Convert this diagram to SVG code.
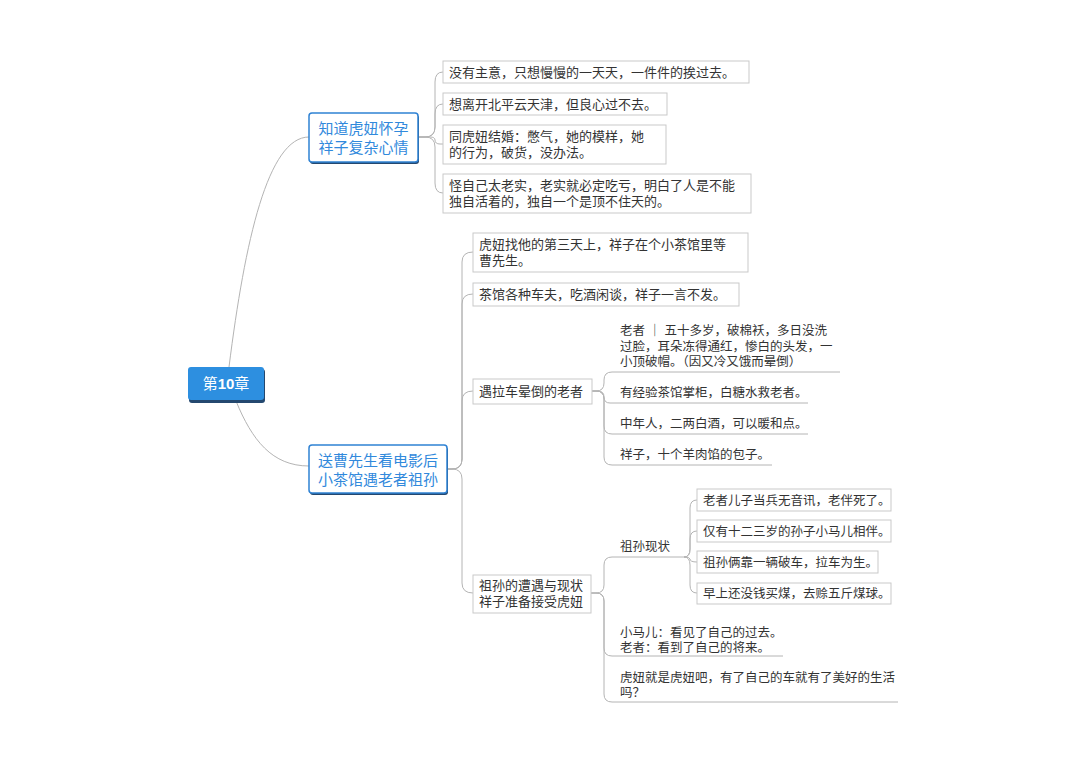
<svg xmlns="http://www.w3.org/2000/svg" width="1080" height="760" viewBox="0 0 1080 760">
<style>
.c{fill:none;stroke:#b4b4b4;stroke-width:1}
.bx{fill:#fff;stroke:#c9c9c9;stroke-width:1}
.t{font-family:"Liberation Sans","Noto Sans CJK SC",sans-serif;font-size:13px;fill:#333}
.s{font-family:"Liberation Sans","Noto Sans CJK SC",sans-serif;font-size:12.5px;fill:#333}
.mb{fill:#fff;stroke:#2f82d4;stroke-width:1.5}
.sh{fill:#24486f}
.mt{font-family:"Liberation Sans","Noto Sans CJK SC",sans-serif;font-size:15px;fill:#3189dc}
</style>
<rect width="1080" height="760" fill="#fff"/>
<g id="connectors">
<path class="c" d="M229 367 C245 240 268 137 309 137"/>
<path class="c" d="M236 401 C252 440 272 466 309 466"/>
<path class="c" d="M418 137 L425 137 Q435 137 435 127 L435 82 Q435 72 443 72"/>
<path class="c" d="M418 137 L425 137 Q435 137 435 127 L435 114 Q435 104 443 104"/>
<path class="c" d="M418 137 L430 137 Q435 137 435 140 Q435 144 440 144 L443 144"/>
<path class="c" d="M418 137 L425 137 Q435 137 435 147 L435 183 Q435 193 443 193"/>
<path class="c" d="M447 469 L452 469 Q462 469 462 459 L462 262 Q462 252 473 252"/>
<path class="c" d="M447 469 L452 469 Q462 469 462 459 L462 304 Q462 294 473 294"/>
<path class="c" d="M447 469 L452 469 Q462 469 462 459 L462 401 Q462 391 473 391"/>
<path class="c" d="M447 469 L452 469 Q462 469 462 479 L462 583 Q462 593 473 593"/>
<path class="c" d="M592 391 L596 391 Q604 391 604 383 L604 380 Q604 372 612 372 L840 372"/>
<path class="c" d="M592 391 L598 391 Q604 391 604 397 Q604 403 610 403 L808 403"/>
<path class="c" d="M592 391 L596 391 Q604 391 604 399 L604 426 Q604 434 612 434 L808 434"/>
<path class="c" d="M592 391 L596 391 Q604 391 604 399 L604 457 Q604 465 612 465 L772 465"/>
<path class="c" d="M591 593 L596 593 Q604 593 604 585 L604 565 Q604 557 612 557 L684 557"/>
<path class="c" d="M591 593 L596 593 Q604 593 604 601 L604 648 Q604 656 612 656 L783 656"/>
<path class="c" d="M591 593 L596 593 Q604 593 604 601 L604 694 Q604 702 612 702 L898 702"/>
<path class="c" d="M684 557 Q690 557 690 549 L690 508 Q690 500 697 500"/>
<path class="c" d="M684 557 Q690 557 690 549 L690 539 Q690 531 697 531"/>
<path class="c" d="M684 557 Q690 557 690 559 Q690 562 697 562"/>
<path class="c" d="M684 557 Q690 557 690 565 L690 585 Q690 593 697 593"/>
</g>
<g id="root">
<rect class="sh" x="189" y="369" width="76" height="34" rx="3"/>
<rect x="188" y="367" width="76" height="33" rx="3" fill="#2d8fe0"/>
<text x="226" y="389" text-anchor="middle" font-family="'Liberation Sans','Noto Sans CJK SC',sans-serif" font-size="15" fill="#fff">第<tspan font-weight="bold">10</tspan>章</text>
</g>
<g id="b1">
<rect class="sh" x="310" y="115" width="109" height="49" rx="3"/>
<rect class="mb" x="309" y="113" width="109" height="49" rx="3"/>
<text class="mt" text-anchor="middle"><tspan x="363.5" y="134">知道虎妞怀孕</tspan><tspan x="363.5" y="153">祥子复杂心情</tspan></text>
</g>
<g id="b2">
<rect class="sh" x="310" y="447" width="138" height="48" rx="3"/>
<rect class="mb" x="309" y="445" width="138" height="48" rx="3"/>
<text class="mt" text-anchor="middle"><tspan x="378" y="466">送曹先生看电影后</tspan><tspan x="378" y="485">小茶馆遇老者祖孙</tspan></text>
</g>
<g id="n1">
<rect class="bx" x="443" y="61" width="306" height="22"/>
<text class="t" x="449" y="77">没有主意，只想慢慢的一天天，一件件的挨过去。</text>
</g>
<g id="n2">
<rect class="bx" x="443" y="93" width="224" height="22"/>
<text class="t" x="449" y="109">想离开北平云天津，但良心过不去。</text>
</g>
<g id="n3">
<rect class="bx" x="443" y="125" width="223" height="39"/>
<text class="t"><tspan x="449" y="141">同虎妞结婚：憋气，她的模样，她</tspan><tspan x="449" y="157">的行为，破货，没办法。</tspan></text>
</g>
<g id="n4">
<rect class="bx" x="443" y="174" width="308" height="39"/>
<text class="t"><tspan x="449" y="190">怪自己太老实，老实就必定吃亏，明白了人是不能</tspan><tspan x="449" y="206">独自活着的，独自一个是顶不住天的。</tspan></text>
</g>
<g id="m1">
<rect class="bx" x="473" y="233" width="275" height="39"/>
<text class="t"><tspan x="479" y="249">虎妞找他的第三天上，祥子在个小茶馆里等</tspan><tspan x="479" y="265">曹先生。</tspan></text>
</g>
<g id="m2">
<rect class="bx" x="473" y="283" width="266" height="23"/>
<text class="t" x="479" y="299">茶馆各种车夫，吃酒闲谈，祥子一言不发。</text>
</g>
<g id="m3">
<rect class="bx" x="473" y="379" width="119" height="25"/>
<text class="t" x="479" y="396">遇拉车晕倒的老者</text>
</g>
<g id="m4">
<rect class="bx" x="473" y="575" width="118" height="38"/>
<text class="t"><tspan x="479" y="590">祖孙的遭遇与现状</tspan><tspan x="479" y="606">祥子准备接受虎妞</tspan></text>
</g>
<g id="o1">
<text class="s"><tspan x="620" y="335">老者 ｜ 五十多岁，破棉袄，多日没洗</tspan><tspan x="620" y="351">过脸，耳朵冻得通红，惨白的头发，一</tspan><tspan x="620" y="366">小顶破帽。（因又冷又饿而晕倒）</tspan></text>
</g>
<g id="o2"><text class="s" x="620" y="397">有经验茶馆掌柜，白糖水救老者。</text></g>
<g id="o3"><text class="s" x="620" y="428">中年人，二两白酒，可以暖和点。</text></g>
<g id="o4"><text class="s" x="620" y="459">祥子，十个羊肉馅的包子。</text></g>
<g id="z1"><text class="s" x="620" y="551">祖孙现状</text></g>
<g id="z1a">
<rect class="bx" x="697" y="489" width="194" height="22"/>
<text class="s" x="703" y="505">老者儿子当兵无音讯，老伴死了。</text>
</g>
<g id="z1b">
<rect class="bx" x="697" y="520" width="194" height="22"/>
<text class="s" x="703" y="536">仅有十二三岁的孙子小马儿相伴。</text>
</g>
<g id="z1c">
<rect class="bx" x="697" y="551" width="181" height="22"/>
<text class="s" x="703" y="567">祖孙俩靠一辆破车，拉车为生。</text>
</g>
<g id="z1d">
<rect class="bx" x="697" y="583" width="194" height="21"/>
<text class="s" x="703" y="598">早上还没钱买煤，去赊五斤煤球。</text>
</g>
<g id="z2">
<text class="s"><tspan x="620" y="637">小马儿：看见了自己的过去。</tspan><tspan x="620" y="652">老者：看到了自己的将来。</tspan></text>
</g>
<g id="z3">
<text class="s"><tspan x="620" y="682">虎妞就是虎妞吧，有了自己的车就有了美好的生活</tspan><tspan x="620" y="697">吗？</tspan></text>
</g>
</svg>
